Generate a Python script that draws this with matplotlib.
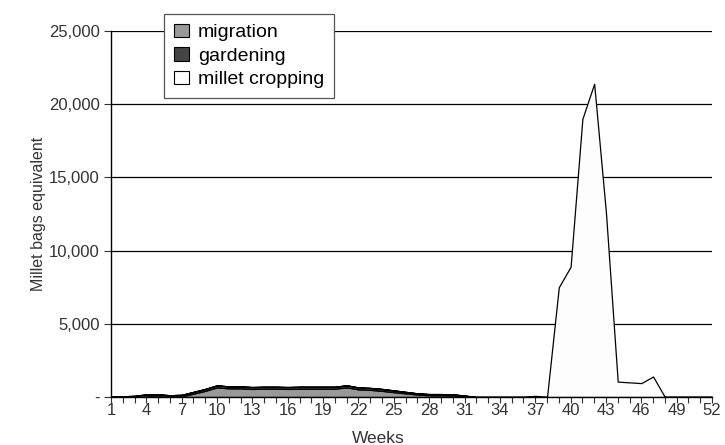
import numpy as np
import matplotlib
matplotlib.use("Agg")
import matplotlib.pyplot as plt
from matplotlib.patches import Patch
from matplotlib.ticker import FuncFormatter

plt.rcParams["font.family"] = ["Liberation Sans", "DejaVu Sans"]

weeks = list(range(1, 53))

# 每周数值，单位：millet bags equivalent
migration = [0, 0, 0, 30, 30, 20, 50, 230, 420, 660,
             590, 590, 550, 570, 570, 550, 570, 570, 570, 570,
             660, 520, 490, 420, 330, 250, 170, 120, 120, 110,
             60, 0, 0, 0, 0, 0, 0, 0, 0, 0,
             0, 0, 0, 0, 0, 0, 0, 0, 0, 0, 0, 0]
gardening = [50, 50, 80, 150, 150, 100, 100, 120, 130, 140,
             130, 130, 130, 130, 130, 130, 130, 130, 130, 130,
             140, 130, 130, 130, 120, 100, 80, 80, 80, 70,
             40, 0, 0, 0, 0, 0, 0, 0, 0, 0,
             0, 0, 0, 0, 0, 0, 0, 0, 0, 0, 0, 0]
millet = [0] * 36 + [80, 0, 7500, 8900, 19000, 21400, 12600,
                     1050, 1000, 950, 1400, 0, 0, 0, 0, 0]

labels = ["migration", "gardening", "millet cropping"]
colors = ["#999999", "#444444", "#fdfdfd"]

fig = plt.figure(figsize=(7.25, 4.45), dpi=100)
ax = fig.add_axes([111 / 725, 1 - 397 / 445, 601 / 725, 366 / 445])

ax.stackplot(weeks, migration, gardening, millet, colors=colors,
             edgecolor="black", linewidth=0.9, zorder=2)

ax.set_xlim(1, 52)
ax.set_ylim(0, 25000)
ax.set_yticks(range(0, 25001, 5000))
ax.yaxis.set_major_formatter(FuncFormatter(lambda v, _: "-" if v == 0 else f"{int(v):,}"))
ax.set_xticks(weeks)
ax.set_xticklabels([str(w) if (w - 1) % 3 == 0 else "" for w in weeks])
ax.grid(axis="y", color="black", linewidth=0.9, zorder=0)
ax.set_axisbelow(True)

for s in ("top", "right"):
    ax.spines[s].set_visible(False)
ax.spines["left"].set_linewidth(1.0)
ax.spines["bottom"].set_linewidth(1.0)
ax.tick_params(axis="x", direction="out", length=4, pad=0, labelsize=12, colors="#333333")
ax.tick_params(axis="y", direction="out", length=5, pad=3, labelsize=12, colors="#333333")

ax.set_xlabel("Weeks", fontsize=12.5, color="#333333")
ax.xaxis.set_label_coords(0.444, -0.092)
ax.set_ylabel("Millet bags equivalent", fontsize=11.5, color="#333333", labelpad=2)

handles = [Patch(facecolor=c, edgecolor="black", linewidth=0.8) for c in colors]
leg = ax.legend(handles, labels, loc="upper left", bbox_to_anchor=(0.088, 1.046),
                borderaxespad=0, fancybox=False, framealpha=1, edgecolor="#555555",
                fontsize=14, handlelength=0.8, handleheight=0.7, handletextpad=0.45,
                labelspacing=0.3, borderpad=0.5)
leg.get_frame().set_linewidth(0.9)
leg.set_zorder(5)

plt.savefig("out.png", dpi=100)
